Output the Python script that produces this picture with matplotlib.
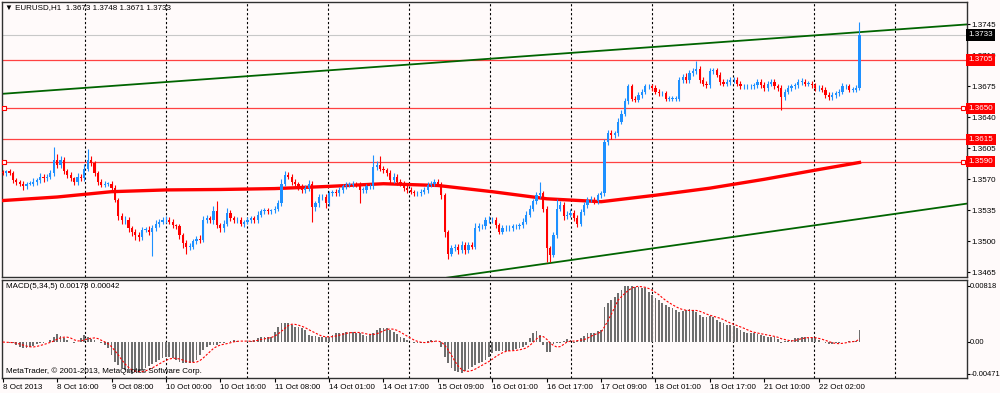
import numpy as np
import pandas as pd
import matplotlib
matplotlib.use("Agg")
import matplotlib.pyplot as plt
import matplotlib.transforms as mtransforms

plt.rcParams['font.family'] = ['Liberation Sans', 'DejaVu Sans']

# EURUSD H1, prices in pips above 1.3000
first_open = 578
closes = [
    577, 579, 577, 569, 567, 565, 562, 565, 565, 567,
    569, 573, 571, 573, 577, 592, 586, 592, 579, 575,
    571, 567, 573, 571, 582, 592, 588, 577, 567, 564,
    565, 565, 560, 547, 528, 524, 524, 515, 511, 507,
    505, 513, 513, 511, 515, 520, 522, 524, 524, 522,
    518, 517, 507, 498, 494, 494, 500, 503, 502, 524,
    526, 524, 534, 518, 515, 520, 532, 526, 524, 524,
    520, 522, 524, 526, 524, 530, 534, 535, 534, 535,
    537, 543, 565, 575, 573, 567, 565, 562, 558, 560,
    565, 539, 543, 550, 550, 543, 554, 556, 554, 558,
    562, 564, 564, 565, 564, 558, 558, 562, 562, 584,
    586, 582, 580, 577, 569, 573, 567, 565, 560, 558,
    556, 554, 554, 556, 558, 564, 565, 567, 565, 552,
    510, 486, 492, 494, 490, 496, 490, 496, 494, 515,
    517, 517, 524, 524, 524, 518, 511, 515, 515, 515,
    517, 517, 518, 522, 530, 537, 545, 552, 554, 537,
    492, 485, 507, 537, 541, 528, 530, 532, 526, 520,
    533, 541, 547, 547, 545, 552, 554, 612, 622, 620,
    622, 635, 644, 658, 675, 661, 660, 665, 669, 675,
    675, 673, 669, 667, 667, 661, 661, 661, 661, 682,
    686, 682, 690, 692, 695, 682, 678, 676, 692, 693,
    688, 680, 678, 680, 682, 682, 678, 675, 675, 675,
    675, 676, 680, 676, 673, 678, 680, 675, 673, 663,
    669, 673, 675, 676, 680, 680, 678, 678, 676, 673,
    673, 671, 665, 663, 665, 667, 669, 675, 675, 671,
    671, 673, 733,
]
up_wick = [
    3, 2, 3, 2, 3, 2, 3, 2, 3, 4,
    3, 4, 3, 3, 4, 15, 6, 4, 3, 3,
    3, 2, 4, 3, 5, 12, 4, 3, 2, 3,
    3, 2, 3, 3, 2, 4, 4, 3, 2, 3,
    4, 3, 3, 4, 3, 4, 3, 3, 4, 3,
    3, 2, 3, 2, 3, 4, 3, 3, 4, 5,
    4, 3, 6, 11, 3, 4, 6, 3, 3, 3,
    3, 2, 3, 3, 3, 4, 3, 3, 3, 2,
    3, 4, 5, 4, 3, 3, 3, 2, 3, 3,
    4, 3, 3, 3, 3, 3, 3, 2, 3, 3,
    3, 3, 3, 3, 2, 3, 3, 3, 3, 13,
    5, 10, 3, 3, 3, 4, 3, 3, 3, 3,
    3, 2, 3, 3, 3, 3, 3, 3, 3, 2,
    3, 3, 4, 3, 3, 4, 3, 3, 3, 6,
    4, 3, 3, 4, 3, 3, 3, 3, 3, 3,
    3, 3, 3, 4, 4, 4, 3, 4, 13, 3,
    3, 3, 4, 11, 4, 3, 4, 4, 3, 4,
    4, 3, 3, 4, 3, 3, 3, 3, 4, 4,
    3, 4, 4, 4, 3, 3, 3, 3, 3, 3,
    3, 3, 3, 3, 3, 3, 3, 3, 3, 4,
    3, 4, 3, 4, 9, 3, 3, 3, 4, 3,
    3, 3, 3, 3, 3, 3, 3, 3, 3, 3,
    3, 3, 3, 3, 4, 3, 3, 3, 3, 3,
    3, 3, 3, 3, 3, 4, 3, 3, 3, 3,
    3, 3, 3, 3, 3, 3, 3, 4, 3, 3,
    3, 3, 15,
]
dn_wick = [
    2, 3, 2, 3, 3, 3, 4, 3, 2, 3,
    3, 3, 4, 3, 3, 3, 3, 3, 3, 3,
    3, 3, 3, 3, 3, 3, 3, 3, 3, 3,
    3, 3, 3, 3, 4, 4, 5, 4, 5, 5,
    5, 3, 3, 4, 28, 3, 4, 3, 3, 3,
    3, 3, 4, 6, 8, 4, 3, 3, 4, 3,
    3, 3, 4, 3, 5, 4, 3, 3, 3, 3,
    3, 4, 3, 3, 3, 3, 3, 3, 3, 3,
    3, 3, 3, 3, 3, 3, 3, 4, 4, 3,
    3, 17, 5, 4, 3, 5, 3, 3, 3, 3,
    3, 3, 3, 3, 3, 15, 3, 3, 3, 3,
    3, 3, 3, 3, 3, 3, 3, 3, 3, 3,
    3, 3, 3, 3, 3, 3, 3, 3, 3, 4,
    5, 6, 3, 3, 4, 3, 4, 3, 3, 3,
    3, 3, 3, 3, 3, 3, 3, 3, 3, 3,
    3, 3, 3, 3, 3, 3, 3, 3, 3, 4,
    15, 8, 3, 3, 3, 4, 3, 3, 3, 4,
    3, 3, 3, 3, 3, 3, 3, 3, 3, 4,
    3, 3, 3, 3, 3, 3, 3, 3, 3, 3,
    3, 3, 3, 3, 3, 3, 3, 3, 3, 3,
    3, 3, 3, 3, 3, 3, 3, 3, 3, 3,
    3, 3, 3, 3, 3, 3, 3, 3, 3, 3,
    3, 3, 3, 3, 3, 3, 3, 3, 3, 15,
    3, 3, 3, 3, 3, 3, 3, 3, 3, 3,
    3, 3, 3, 3, 3, 3, 3, 3, 3, 3,
    3, 3, 2,
]

# MACD(5,34,5) main histogram, in 1e-5
macd_hist = [
    -5, -10, -15, -24, -49, -73, -88, -88, -73, -63,
    -34, -24, -15, 0, 24, 63, 112, 83, 49, 24,
    0, -15, 0, 49, 97, 73, 34, 24, 0,
    -24, -49, -97, -195, -292, -341, -390, -414, -438, -471,
    -438, -424, -414, -390, -356, -326, -292, -268, -244, -229,
    -229, -244, -268, -292, -307, -317, -307, -292, -268, -195,
    -122, -73, -49, -49, -49, -24, -15, 0, 10, 24,
    10, 0, 0, 10, 15, 24, 49, 63, 63,
    63, 73, 146, 219, 268, 278, 268, 244, 209, 209,
    195, 170, 97, 83, 83, 73, 63, 63, 73, 97,
    122, 122, 131, 136, 146, 136, 131, 122, 97, 83,
    97, 131, 170, 195, 205, 195, 170, 146, 112, 73,
    49, 24, 0, -24, -24, -15, 0, 10, 24,
    15, 0, -73, -219, -317, -390, -424, -445, -460, -429,
    -404, -365, -341, -317, -292, -268, -229, -170, -136, -136,
    -136, -131, -131, -122, -112, -97, -73, -49, 49, 122,
    156, 97, -49, -146, -146, -34, -15, -15, 15, 34,
    24, -15, 15, 49, 83, 122, 122, 131, 156, 170,
    511, 560, 609, 657, 706, 755, 813, 818, 818, 804,
    794, 779, 779, 730, 682, 633, 609, 560, 536, 511,
    487, 463, 438, 448, 463, 472, 463, 438, 390,
    365, 365, 375, 365, 317, 292, 268, 244, 244, 229,
    195, 170, 146, 131, 122, 122, 112, 97, 83,
    73, 73, 63, 34, -24, 15, 15, 24, 49, 58,
    73, 63, 58, 49, 49, 24, 0, -24, -39, -39,
    -24, -15, 0, 0, 10, 10, 15, 178,
]

# moving average anchors (bar, pips)
ma_bars = [0, 16, 32, 48, 64, 80, 96, 112, 128, 144, 160, 176, 192, 208, 224, 240, 252]
ma_vals = [546, 550, 556, 558, 558.5, 559.5, 562, 565, 563, 556, 548, 544.7, 552, 560, 570, 581, 589]

levels = [1.3705, 1.3650, 1.3615, 1.3590]
marked_levels = [1.3650, 1.3590]
bid = 1.3733
trend_up = [(-0.8, 1.36663), (283.5, 1.37448)]
trend_dn = [(130.7, 1.34589), (283.5, 1.35425)]

time_labels = ["8 Oct 2013", "8 Oct 16:00", "9 Oct 08:00", "10 Oct 00:00", "10 Oct 16:00",
               "11 Oct 08:00", "14 Oct 01:00", "14 Oct 17:00", "15 Oct 09:00", "16 Oct 01:00",
               "16 Oct 17:00", "17 Oct 09:00", "18 Oct 01:00", "18 Oct 17:00", "21 Oct 10:00",
               "22 Oct 02:00"]

c = 1.3 + np.array(closes) / 10000.0
o = np.concatenate([[1.3 + first_open / 10000.0], c[:-1]])
hi = np.maximum(o, c) + np.array(up_wick) / 10000.0
lo = np.minimum(o, c) - np.array(dn_wick) / 10000.0
n = len(c)
x = np.arange(n)
hist = np.array(macd_hist) / 1e5
signal = pd.Series(hist).rolling(5, min_periods=1).mean().values

BG = '#FFFAFA'
UP = '#1E90FF'
DN = '#FF0000'
fs = 5.8

fig = plt.figure(figsize=(10, 3.93), dpi=100, facecolor=BG)
W, H = 1000.0, 393.0
ax = fig.add_axes([2 / W, 1 - 277 / H, 964.7 / W, 275.5 / H], facecolor=BG)
ax2 = fig.add_axes([2 / W, 1 - 377.5 / H, 964.7 / W, 98 / H], facecolor=BG)

xmin, xmax = -0.206, 283.53
for a in (ax, ax2):
    a.set_xlim(xmin, xmax)
    for s in a.spines.values():
        s.set_color('#303030')
        s.set_linewidth(1.0)
    # vertical dotted grid
    for k in range(11):
        gx = (84.7 + 81 * k - 2.7) / 3.4
        a.axvline(gx, color='black', lw=0.8, ls=(0, (2, 2)), zorder=0.5)

ax.set_ylim(1.34597, 1.37707)

# horizontal levels
for lv in levels:
    ax.axhline(lv, color='#FF2020', lw=0.9, alpha=0.85, zorder=1)
blend = mtransforms.blended_transform_factory(ax.transAxes, ax.transData)
for lv in marked_levels:
    ax.plot([0.0025, 0.9965], [lv, lv], ls='none', marker='s', ms=3, mfc='white',
            mec='red', mew=0.8, transform=blend, clip_on=False, zorder=5)
ax.axhline(bid, color='#C8C8C8', lw=0.8, zorder=1)

# trend lines and MA
ax.plot([p[0] for p in trend_up], [p[1] for p in trend_up], color='#006400', lw=1.3, zorder=2)
ax.plot([p[0] for p in trend_dn], [p[1] for p in trend_dn], color='#006400', lw=1.3, zorder=2)
ax.plot(ma_bars, 1.3 + np.array(ma_vals) / 10000.0, color='red', lw=2.4, zorder=3)

# candles
cols = np.where(c >= o, UP, DN)
ax.vlines(x, lo, hi, colors=cols, lw=0.8, zorder=4)
body = np.where(np.abs(c - o) < 0.00005, 0.00005, c - o)
ax.bar(x, body, bottom=o, width=0.62, color=cols, lw=0, zorder=4)

# right price axis
ax.yaxis.tick_right()
ticks = [1.3465 + 0.0035 * k for k in range(9)]
ax.set_yticks(ticks)
ax.set_yticklabels(["%.4f" % t for t in ticks])
ax.tick_params(axis='y', right=True, length=2.5, width=0.8, pad=1.0, labelsize=fs, colors='black')
ax.set_xticks([])

for lv in levels:
    ax.text(1.0018, lv, "%.4f" % lv, transform=blend, color='white', fontsize=fs,
            va='center', ha='left', clip_on=False, zorder=6,
            bbox=dict(boxstyle='square,pad=0.3', fc='#FF0000', ec='none'))
ax.text(1.0018, bid, "%.4f" % bid, transform=blend, color='white', fontsize=fs,
        va='center', ha='left', clip_on=False, zorder=6,
        bbox=dict(boxstyle='square,pad=0.3', fc='black', ec='none'))

# MACD panel
ax2.set_ylim(-0.00523, 0.00909)
ax2.bar(x, hist, width=0.55, color='#6E6E6E', lw=0, zorder=2)
ax2.plot(x, signal, color='red', lw=0.8, ls=(0, (2, 1.5)), zorder=3)
ax2.yaxis.tick_right()
ax2.set_yticks([0.00818, 0.0, -0.00471])
ax2.set_yticklabels(["0.00818", "0.00", "-0.00471"])
ax2.tick_params(axis='y', right=True, length=2, width=0.8, pad=0.5, labelsize=5.4)

ax2.set_xticks(np.arange(len(time_labels)) * 16)
ax2.set_xticklabels(time_labels)
ax2.tick_params(axis='x', length=3, width=0.8, pad=1.5, labelsize=fs)
for lab in ax2.get_xticklabels():
    lab.set_ha('left')

fig.text(5 / W, 1 - 8 / H, "\u25BC EURUSD,H1  1.3673 1.3748 1.3671 1.3733", fontsize=fs,
         va='center', ha='left')
fig.text(6 / W, 1 - 287 / H, "MACD(5,34,5) 0.00178 0.00042", fontsize=fs, va='center', ha='left')
fig.text(6 / W, 1 - 371 / H, "MetaTrader, \u00A9 2001-2013, MetaQuotes Software Corp.", fontsize=fs,
         va='center', ha='left')

fig.savefig("out.png", dpi=100, facecolor=BG)
